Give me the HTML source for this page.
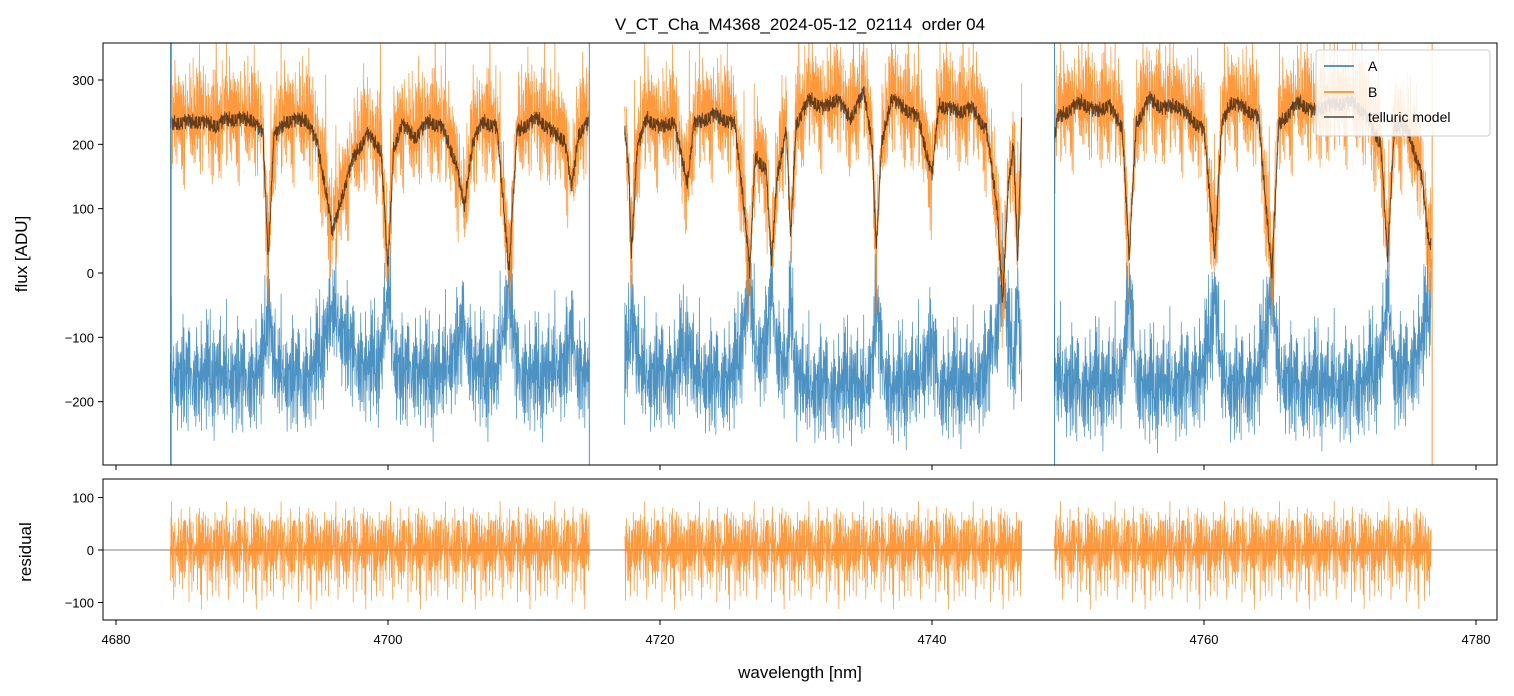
<!DOCTYPE html>
<html><head><meta charset="utf-8">
<style>
html,body{margin:0;padding:0;background:#fff;}
svg{display:block;font-family:"Liberation Sans","DejaVu Sans",sans-serif;}
</style></head>
<body>
<svg id="chart" width="1514" height="696" viewBox="0 0 1514 696">
<defs>
<clipPath id="cTop"><rect x="103" y="43" width="1394" height="422"/></clipPath>
<clipPath id="cBot"><rect x="103" y="479" width="1394" height="141"/></clipPath>
</defs>
<text x="800" y="30" text-anchor="middle" font-size="17" style="white-space:pre">V_CT_Cha_M4368_2024-05-12_02114  order 04</text>
<g id="topPlot" clip-path="url(#cTop)"></g>
<g id="botPlot" clip-path="url(#cBot)"></g>
<rect x="103" y="43" width="1394" height="422" fill="none" stroke="#000" stroke-width="1"/>
<rect x="103" y="479" width="1394" height="141" fill="none" stroke="#000" stroke-width="1"/>
<g id="axes"></g>
<text x="800" y="678" text-anchor="middle" font-size="17">wavelength [nm]</text>
<text transform="translate(27,254) rotate(-90)" text-anchor="middle" font-size="17">flux [ADU]</text>
<text transform="translate(31,552) rotate(-90)" text-anchor="middle" font-size="17">residual</text>
<g id="legendG">
<rect x="1316" y="50" width="174" height="86" rx="3" fill="#fff" fill-opacity="0.85" stroke="#ccc"/>
<line x1="1324" y1="66" x2="1354" y2="66" stroke="#1f77b4" stroke-width="1.5"/>
<text x="1368" y="71" font-size="14">A</text>
<line x1="1324" y1="92" x2="1354" y2="92" stroke="#ff7f0e" stroke-width="1.5"/>
<text x="1368" y="97" font-size="14">B</text>
<line x1="1324" y1="117" x2="1354" y2="117" stroke="#444" stroke-width="1.5"/>
<text x="1368" y="122" font-size="14">telluric model</text>
</g>
</svg>
<script>
const xTicks=[4680,4700,4720,4740,4760,4780];
const yTicksTop=[-200,-100,0,100,200,300];
const yTicksBot=[-100,0,100];
const segments=[[4684.0,4714.8],[4717.4,4746.6],[4749.0,4776.7]];
const modelWl=[4684,4686,4687.5,4688,4690,4690.8,4691.2,4691.6,4692.5,4694,4694.8,4695.5,4695.9,4696.5,4697.5,4698.5,4699.5,4700,4700.4,4701,4702,4703,4704,4705,4705.6,4706.2,4707,4708,4708.9,4709.5,4711,4712,4713,4713.5,4714,4714.8,
4717.4,4717.7,4717.9,4718.3,4719,4720,4721,4722,4722.5,4724,4725.5,4726.2,4726.6,4727,4727.8,4728.2,4728.6,4729.3,4729.6,4730,4731,4732,4733,4734,4735,4735.6,4735.9,4736.3,4737,4738,4739,4740,4740.5,4742,4743,4744,4744.8,4745.2,4745.6,4746,4746.3,4746.6,
4749.0,4749.2,4751,4752,4753,4754,4754.5,4755,4756,4757,4758,4759,4760,4760.8,4761.3,4762,4763,4764,4765,4765.5,4767,4768,4769,4771,4772,4773,4773.5,4774,4775,4776,4776.5,4776.7];
const modelVal=[232,235,228,238,238,215,25,210,235,238,200,120,60,110,180,215,190,0,190,230,210,235,225,170,100,200,235,225,5,220,240,220,205,130,215,235,
220,160,30,190,240,225,235,140,230,245,230,100,0,180,160,10,150,220,50,230,270,255,270,240,280,200,30,200,270,255,240,150,260,250,255,220,100,-50,130,200,20,240,
200,240,265,250,260,225,20,230,270,255,260,240,220,30,230,265,255,240,0,230,265,250,260,265,240,200,20,230,220,150,50,45];
const jitter=[0.31,-0.82,0.55,-0.12,0.94,-0.47,0.08,-0.66,0.73,-0.29,0.41,-0.95,0.18,0.62,-0.38,0.87,-0.71,0.02,-0.53,0.36,-0.09,0.79,-0.88,0.25,0.51,-0.19,-0.62,0.97,-0.34,0.14,-0.76,0.66,-0.03,0.45,-0.57,0.21,0.83,-0.41,-0.14,0.58,-0.91,0.33,0.06,-0.68,0.77,-0.24,0.49,-0.85,0.12,0.69,-0.31,0.91,-0.52,-0.07,0.39,-0.74,0.27,0.6,-0.44,0.99,-0.16];

const X=w=>116+(w-4680)*13.6;
const YT=v=>273-v*0.6433;
const YB=v=>550-v*0.525;
const ns='http://www.w3.org/2000/svg';
function mk(tag,attrs,parent){const e=document.createElementNS(ns,tag);for(const k in attrs)e.setAttribute(k,attrs[k]);parent.appendChild(e);return e;}
function model(w){for(let i=0;i<modelWl.length-1;i++){if(w>=modelWl[i]&&w<=modelWl[i+1]){const t=(w-modelWl[i])/(modelWl[i+1]-modelWl[i]||1);return modelVal[i]+t*(modelVal[i+1]-modelVal[i]);}}return 235;}
const topG=document.getElementById('topPlot'),botG=document.getElementById('botPlot'),axesG=document.getElementById('axes');
const zl=mk('line',{x1:103,x2:1497,y1:YB(0),y2:YB(0),stroke:'#000','stroke-width':0.5},botG);


let ptsA=[],ptsB=[],ptsM=[],ptsR=[];let k=0;
segments.forEach((s)=>{
 const a=[],b=[],m=[],r=[];
 for(let w=s[0];w<=s[1];w+=0.022,k++){
  const mv=model(w);
  const n=jitter.length;
  const j1=jitter[k%n],j2=jitter[(k*k+3)%n],j3=jitter[(k*k*k+5)%n],j4=jitter[(Math.floor(k/3)*17+k)%n];
  const spike=(j1*j4>0.5)?Math.abs(j2)*120:0;
  b.push(X(w).toFixed(1)+','+YT(mv+j1*75+j2*40+j4*25+spike).toFixed(1));
  a.push(X(w).toFixed(1)+','+YT(-170+(235-mv)*0.6+j2*65+j3*35+j4*25+(j3*j1>0.55?Math.abs(j4)*80:0)).toFixed(1));
  m.push(X(w).toFixed(1)+','+YT(mv+j3*14).toFixed(1));
  r.push(X(w).toFixed(1)+','+YB(j1*55+j3*35+j4*20+(j2*j4>0.55?j1*90:0)).toFixed(1));
 }
 ptsA.push(a);ptsB.push(b);ptsM.push(m);ptsR.push(r);
});
ptsA.forEach(p=>{const e=mk('polyline',{points:p.join(' '),fill:'none',stroke:'#1f77b4','stroke-opacity':0.8,'stroke-width':0.75},topG);

});
ptsB.forEach(p=>{const e=mk('polyline',{points:p.join(' '),fill:'none',stroke:'#ff7f0e','stroke-opacity':0.8,'stroke-width':0.75},topG);

});
ptsM.forEach(p=>{const e=mk('polyline',{points:p.join(' '),fill:'none',stroke:'#000','stroke-opacity':0.6,'stroke-width':1},topG);

});
ptsR.forEach(p=>{const e=mk('polyline',{points:p.join(' '),fill:'none',stroke:'#ff7f0e','stroke-opacity':0.8,'stroke-width':0.75},botG);

});
const edgeWl=[segments[0][0],segments[0][1],segments[2][0]];
edgeWl.forEach(w=>{const e=mk('line',{x1:X(w),x2:X(w),y1:43,y2:465,stroke:'#1f77b4','stroke-width':0.8},topG);
 
 });
const edgeWlB=[segments[0][0],segments[2][1]];
edgeWlB.forEach(w=>{const e=mk('line',{x1:X(w)+1,x2:X(w)+1,y1:43,y2:465,stroke:'#ff7f0e','stroke-width':0.8},topG);
 
 });
document.getElementById('chart').appendChild(document.getElementById('legendG'));
xTicks.forEach(t=>{
 [465,620].forEach(y=>{mk('line',{x1:X(t),x2:X(t),y1:y,y2:y+5,stroke:'#000'},axesG);});
 const e=mk('text',{x:X(t),y:644,'text-anchor':'middle','font-size':13},axesG);e.textContent=t;
 
 
});
yTicksTop.forEach(t=>{mk('line',{x1:98,x2:103,y1:YT(t),y2:YT(t),stroke:'#000'},axesG);
 const e=mk('text',{x:94,y:YT(t)+5,'text-anchor':'end','font-size':13},axesG);e.textContent=t<0?'\u2212'+(-t):t;
 
 });
yTicksBot.forEach(t=>{mk('line',{x1:98,x2:103,y1:YB(t),y2:YB(t),stroke:'#000'},axesG);
 const e=mk('text',{x:94,y:YB(t)+5,'text-anchor':'end','font-size':13},axesG);e.textContent=t<0?'\u2212'+(-t):t;
 
 });
</script>
</body></html>
